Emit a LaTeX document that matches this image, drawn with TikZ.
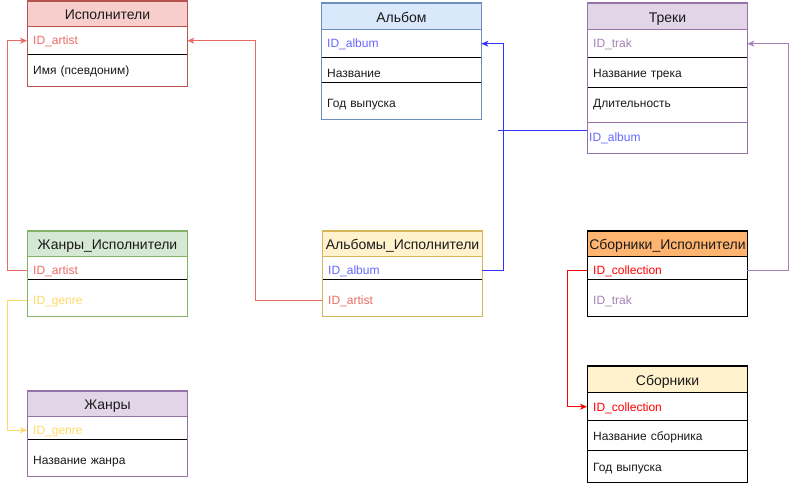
\documentclass[tikz,border=0pt]{standalone}
\usepackage{fontspec}
\setmainfont{Liberation Sans}
\usetikzlibrary{arrows.meta}
\definecolor{redF}{HTML}{F8CECC}\definecolor{redB}{HTML}{B85450}
\definecolor{blueF}{HTML}{DAE8FC}\definecolor{blueB}{HTML}{6C8EBF}
\definecolor{purF}{HTML}{E1D5E7}\definecolor{purB}{HTML}{9673A6}
\definecolor{grnF}{HTML}{D5E8D4}\definecolor{grnB}{HTML}{82B366}
\definecolor{yelF}{HTML}{FFF2CC}\definecolor{yelB}{HTML}{D6B656}
\definecolor{orF}{HTML}{FFB570}
\definecolor{cArtist}{HTML}{EA6B66}
\definecolor{cAlbum}{HTML}{6666FF}
\definecolor{cTrak}{HTML}{A680B8}
\definecolor{cGenre}{HTML}{FFD966}
\definecolor{cColl}{HTML}{FF0000}
\definecolor{lBlue}{HTML}{3333FF}
\definecolor{txt}{HTML}{1A1A1A}
\begin{document}
\begin{tikzpicture}[x=1pt,y=-1pt,
  hdr/.style={anchor=north west, minimum width=160pt, minimum height=#1, inner sep=0pt,
    text height=12pt, text depth=0pt, text=txt,
    font=\fontsize{14}{16}\selectfont, line width=1pt},
  row/.style={anchor=north west, text width=148pt, inner xsep=6pt, inner ysep=0pt,
    text height=12.5pt, text depth=0.5pt, text=txt,
    minimum height=#1, align=left, font=\fontsize{12}{14}\selectfont},
  raise/.style={text depth=#1},
  sep/.style={draw=black, line width=1pt},
  frame/.style={draw=#1, line width=1pt},
  conn/.style={draw=#1, line width=1pt},
  tip/.style={-{Stealth[length=7pt,width=6pt,inset=2pt]}}
]
\useasboundingbox (0,0) rectangle (796,486);

% ---------- Исполнители
\node[hdr=25pt, fill=redF, draw=redB] (art0) at (27,1) {Исполнители};
\node[row=29pt, raise=4.5pt] (art1) at (27,26) {\color{cArtist}ID\_artist};
\node[row=31pt, raise=4.5pt] (art2) at (27,55) {Имя (псевдоним)};
\draw[sep] (art2.north west) -- (art2.north east);
\draw[frame=redB] (art0.north west) rectangle (art2.south east);

% ---------- Альбом
\node[hdr=26pt, fill=blueF, draw=blueB] (alb0) at (321,3) {Альбом};
\node[row=29pt, raise=4.5pt] (alb1) at (321,29) {\color{cAlbum}ID\_album};
\node[row=25pt, text height=14.5pt] (alb2) at (321,58) {Название};
\node[row=36pt] (alb3) at (321,83) {Год выпуска};
\draw[sep] (alb2.north west) -- (alb2.north east);
\draw[sep] (alb3.north west) -- (alb3.north east);
\draw[frame=blueB] (alb0.north west) rectangle (alb3.south east);

% ---------- Треки
\node[hdr=26pt, fill=purF, draw=purB] (tr0) at (587,3) {Треки};
\node[row=29pt, raise=4.5pt] (tr1) at (587,29) {\color{cTrak}ID\_trak};
\node[row=30pt, raise=4.5pt] (tr2) at (587,58) {Название трека};
\node[row=35pt, text height=8pt, text depth=4pt] (tr3) at (587,88) {Длительность};
\node[row=30pt, text width=156pt, inner xsep=2pt, raise=6.5pt] (tr4) at (587,123) {\color{cAlbum}ID\_album};
\draw[sep] (tr2.north west) -- (tr2.north east);
\draw[sep] (tr3.north west) -- (tr3.north east);
\draw[frame=purB] (tr4.north west) -- (tr4.north east);
\draw[frame=purB] (tr0.north west) rectangle (tr4.south east);

% ---------- Жанры_Исполнители
\node[hdr=25pt, fill=grnF, draw=grnB] (gi0) at (27,231) {Жанры\_Исполнители};
\node[row=24pt] (gi1) at (27,256) {\color{cArtist}ID\_artist};
\node[row=36pt] (gi2) at (27,280) {\color{cGenre}ID\_genre};
\draw[sep] (gi2.north west) -- (gi2.north east);
\draw[frame=grnB] (gi0.north west) rectangle (gi2.south east);

% ---------- Альбомы_Исполнители
\node[hdr=25pt, fill=yelF, draw=yelB] (ai0) at (322,231) {Альбомы\_Исполнители};
\node[row=24pt] (ai1) at (322,256) {\color{cAlbum}ID\_album};
\node[row=36pt] (ai2) at (322,280) {\color{cArtist}ID\_artist};
\draw[sep] (ai2.north west) -- (ai2.north east);
\draw[frame=yelB] (ai0.north west) rectangle (ai2.south east);

% ---------- Сборники_Исполнители
\node[hdr=25pt, fill=orF, draw=black] (si0) at (587,231) {Сборники\_Исполнители};
\node[row=24pt] (si1) at (587,256) {\color{cColl}ID\_collection};
\node[row=36pt] (si2) at (587,280) {\color{cTrak}ID\_trak};
\draw[sep] (si2.north west) -- (si2.north east);
\draw[frame=black] (si0.north west) rectangle (si2.south east);

% ---------- Сборники
\node[hdr=26pt, fill=yelF, draw=black] (sb0) at (587,366) {Сборники};
\node[row=29pt, raise=3.5pt] (sb1) at (587,392) {\color{cColl}ID\_collection};
\node[row=30pt, raise=3.5pt] (sb2) at (587,421) {Название сборника};
\node[row=31pt, raise=3.5pt] (sb3) at (587,451) {Год выпуска};
\draw[sep] (sb2.north west) -- (sb2.north east);
\draw[sep] (sb3.north west) -- (sb3.north east);
\draw[frame=black] (sb0.north west) rectangle (sb3.south east);

% ---------- Жанры
\node[hdr=25pt, fill=purF, draw=purB] (g0) at (27,391) {Жанры};
\node[row=24pt] (g1) at (27,416) {\color{cGenre}ID\_genre};
\node[row=36pt] (g2) at (27,440) {Название жанра};
\draw[sep] (g2.north west) -- (g2.north east);
\draw[frame=purB] (g0.north west) rectangle (g2.south east);

% ---------- connectors
\draw[conn=cArtist, tip] ([yshift=-2pt]gi1.west) -- ++(-20,0) |- (art1.west);
\draw[conn=cArtist, tip] ([yshift=-2pt]ai2.west) -- ++(-67,0) |- (art1.east);
\draw[conn=cGenre, tip] ([yshift=-2pt]gi2.west) -- ++(-20,0) |- ([yshift=-2pt]g1.west);
\draw[conn=lBlue, tip] ([yshift=-2pt]ai1.east) -- ++(21,0) |- (alb1.east);
\draw[conn=lBlue] ([yshift=8pt]tr4.west) -- ++(-89,0) coordinate (bstub);
\draw[conn=cTrak, tip] ([yshift=-2pt]si1.east) -- ++(41,0) |- (tr1.east);
\draw[conn=cColl, tip] ([yshift=-2pt]si1.west) -- ++(-20,0) |- (sb1.west);
\end{tikzpicture}
\end{document}
